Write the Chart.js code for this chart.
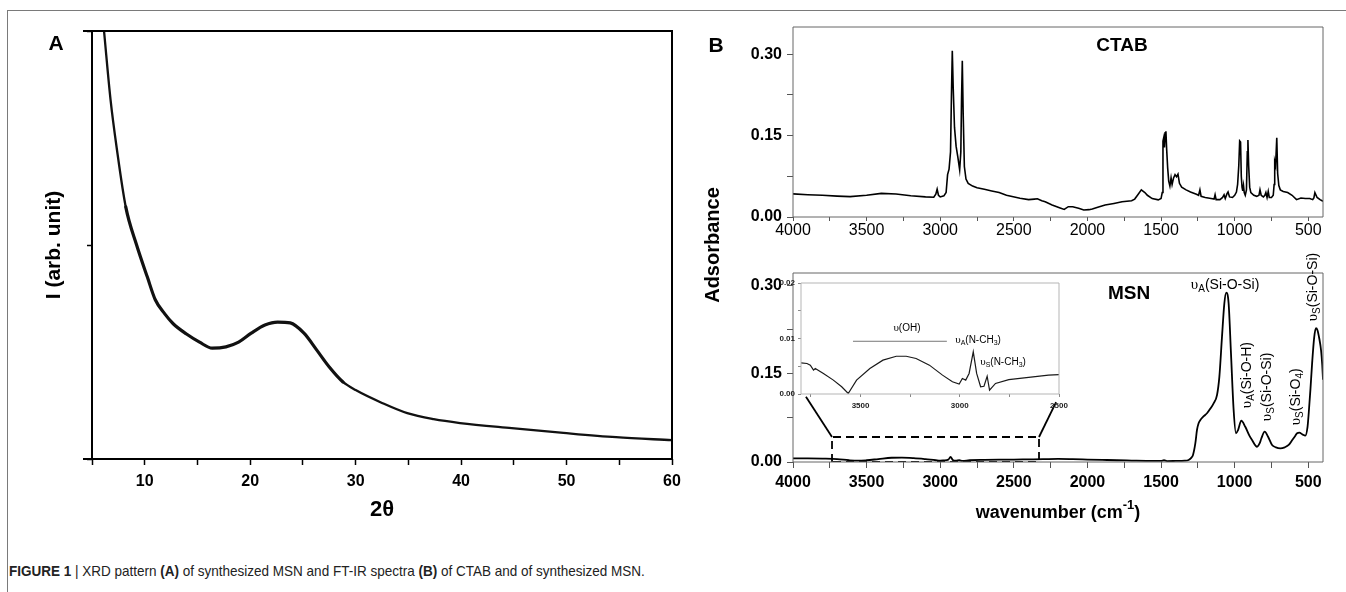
<!DOCTYPE html>
<html>
<head>
<meta charset="utf-8">
<script src="https://cdn.jsdelivr.net/npm/chart.js@4.4.0/dist/chart.umd.min.js"></script>
<style>
  html, body { margin: 0; padding: 0; background: #fff; }
  body { width: 1346px; height: 592px; position: relative; overflow: hidden; font-family: 'Liberation Sans', Arial, sans-serif; }
  #frame { position: absolute; left: 7px; top: 10px; width: 1400px; height: 600px; border-left: 1.5px solid #7a7a7a; border-top: 1.5px solid #7a7a7a; }
  canvas { position: absolute; }
  .panel { position: absolute; font-weight: bold; font-size: 21px; transform: translate(-50%, -50%); }
  #ytitleB { position: absolute; left: 712px; top: 245px; font-weight: bold; font-size: 20px; white-space: nowrap; transform: translate(-50%, -50%) rotate(-90deg); }
  #caption { position: absolute; left: 9px; top: 562px; font-size: 15px; white-space: nowrap; color: #222; transform: scaleX(0.9); transform-origin: left center; }
</style>
</head>
<body>
<div id="frame"></div>
<canvas id="xrdChart" width="700" height="540" style="left:0;top:0"></canvas>
<canvas id="ctabChart" width="646" height="250" style="left:700px;top:0"></canvas>
<canvas id="msnChart" width="646" height="290" style="left:700px;top:240px"></canvas>
<canvas id="insetChart" width="310" height="150" style="left:760px;top:270px"></canvas>
<div class="panel" style="left:56px;top:43px">A</div>
<div class="panel" style="left:716px;top:45px">B</div>
<div id="ytitleB">Adsorbance</div>
<div id="caption"><b>FIGURE 1</b> | XRD pattern <b>(A)</b> of synthesized MSN and FT-IR spectra <b>(B)</b> of CTAB and of synthesized MSN.</div>

<script>
// XRD pattern (panel A)
const xrdAngle = [6.14, 6.76, 7.37, 8.2, 9.23, 10.25, 11.0, 11.9, 12.7, 13.96, 15.2, 16.4, 17.7, 18.9, 20.1, 21.4, 22.6, 23.8, 25.1, 26.3, 27.5, 28.8, 30.0, 32.5, 34.9, 37.4, 39.9, 44.8, 49.7, 54.7, 60];
const xrdIntensity = [100, 83.9, 72.2, 58.9, 50.0, 42.5, 37.2, 33.9, 31.6, 29.2, 27.3, 25.9, 26.2, 27.3, 29.4, 31.3, 32.0, 31.8, 29.4, 25.5, 21.5, 18.0, 16.1, 13.1, 10.7, 9.3, 8.4, 7.2, 6.1, 5.1, 4.4];
const xrdTicks = [5, 10, 15, 20, 25, 30, 35, 40, 45, 50, 55, 60];
const xrdLevelTicks = [0, 50, 100];

// FT-IR axes (panel B)
const irTicks = [4000, 3750, 3500, 3250, 3000, 2750, 2500, 2250, 2000, 1750, 1500, 1250, 1000, 750, 500];
const absTicks = [0, 0.075, 0.15, 0.225, 0.30];

// CTAB spectrum
const ctabWavenumber = [4000, 3900, 3800, 3700, 3612, 3500, 3400, 3300, 3200, 3100, 3044, 3030, 3021, 3012, 3000, 2975, 2960, 2950, 2940, 2930, 2924, 2918, 2912, 2903, 2892, 2880, 2868, 2860, 2855, 2850, 2844, 2836, 2825, 2810, 2780, 2750, 2700, 2650, 2600, 2550, 2458, 2400, 2360, 2340, 2310, 2287, 2240, 2190, 2158, 2130, 2100, 2060, 2025, 1990, 1967, 1930, 1880, 1820, 1765, 1700, 1679, 1660, 1634, 1610, 1593, 1560, 1519, 1500, 1492, 1487, 1482, 1477, 1472, 1467, 1462, 1455, 1448, 1440, 1432, 1425, 1415, 1405, 1395, 1385, 1375, 1360, 1330, 1300, 1260, 1245, 1236, 1228, 1200, 1160, 1140, 1133, 1126, 1100, 1082, 1072, 1064, 1052, 1045, 1035, 1015, 1000, 988, 980, 972, 966, 960, 955, 950, 945, 940, 935, 928, 920, 914, 910, 905, 898, 890, 870, 850, 835, 828, 820, 805, 795, 788, 780, 772, 765, 750, 738, 732, 728, 722, 714, 708, 700, 690, 670, 640, 610, 580, 550, 520, 490, 470, 462, 455, 440, 420, 400];
const ctabAbsorbance = [0.0426, 0.041, 0.040, 0.0385, 0.0376, 0.040, 0.0435, 0.0425, 0.039, 0.037, 0.0365, 0.042, 0.0513, 0.040, 0.037, 0.039, 0.045, 0.078, 0.088, 0.12, 0.22, 0.306, 0.24, 0.165, 0.13, 0.11, 0.087, 0.12, 0.22, 0.288, 0.19, 0.093, 0.07, 0.062, 0.057, 0.054, 0.051, 0.048, 0.045, 0.040, 0.0346, 0.032, 0.033, 0.0335, 0.030, 0.028, 0.022, 0.017, 0.014, 0.019, 0.019, 0.016, 0.013, 0.0135, 0.0148, 0.018, 0.022, 0.025, 0.028, 0.030, 0.033, 0.040, 0.050, 0.045, 0.040, 0.034, 0.0315, 0.034, 0.045, 0.140, 0.146, 0.128, 0.155, 0.158, 0.125, 0.09, 0.066, 0.057, 0.072, 0.060, 0.072, 0.078, 0.074, 0.079, 0.062, 0.055, 0.050, 0.046, 0.042, 0.040, 0.050, 0.038, 0.036, 0.034, 0.033, 0.041, 0.032, 0.032, 0.036, 0.041, 0.034, 0.043, 0.046, 0.037, 0.036, 0.040, 0.046, 0.060, 0.095, 0.140, 0.138, 0.075, 0.055, 0.048, 0.058, 0.045, 0.040, 0.050, 0.120, 0.142, 0.095, 0.055, 0.045, 0.040, 0.038, 0.040, 0.050, 0.040, 0.037, 0.040, 0.045, 0.036, 0.047, 0.036, 0.036, 0.040, 0.060, 0.102, 0.095, 0.146, 0.080, 0.058, 0.050, 0.047, 0.045, 0.040, 0.032, 0.035, 0.034, 0.034, 0.032, 0.035, 0.045, 0.036, 0.032, 0.029, 0.026];

// MSN spectrum
const msnWavenumber = [4000, 3900, 3800, 3700, 3620, 3560, 3500, 3420, 3330, 3260, 3180, 3100, 3030, 3000, 2975, 2945, 2930, 2915, 2895, 2870, 2850, 2800, 2700, 2600, 2500, 2400, 2300, 2200, 2100, 2000, 1900, 1800, 1700, 1600, 1500, 1480, 1460, 1400, 1340, 1313, 1295, 1283, 1267, 1256, 1245, 1233, 1210, 1188, 1165, 1143, 1120, 1104, 1086, 1070, 1057, 1041, 1025, 1007, 991, 977, 955, 928, 900, 882, 848, 830, 819, 796, 773, 746, 720, 690, 660, 633, 610, 590, 576, 560, 540, 520, 505, 497, 485, 474, 460, 448, 438, 425, 413, 405, 400];
const msnAbsorbance = [0.0063, 0.0062, 0.0058, 0.0050, 0.0030, 0.0022, 0.0030, 0.0050, 0.0072, 0.0074, 0.0065, 0.0048, 0.0030, 0.0024, 0.0028, 0.0040, 0.0085, 0.0035, 0.0022, 0.0030, 0.0018, 0.0030, 0.0036, 0.0040, 0.0042, 0.0045, 0.0048, 0.0052, 0.0048, 0.0042, 0.0036, 0.0030, 0.0025, 0.0020, 0.0018, 0.0030, 0.0016, 0.0018, 0.0022, 0.0035, 0.0070, 0.012, 0.032, 0.0545, 0.066, 0.0716, 0.078, 0.083, 0.091, 0.100, 0.114, 0.145, 0.2135, 0.2705, 0.2886, 0.270, 0.185, 0.0886, 0.049, 0.0545, 0.0704, 0.060, 0.045, 0.0375, 0.026, 0.032, 0.040, 0.0516, 0.043, 0.029, 0.025, 0.0233, 0.025, 0.029, 0.037, 0.044, 0.049, 0.050, 0.047, 0.045, 0.060, 0.083, 0.125, 0.168, 0.212, 0.228, 0.225, 0.210, 0.190, 0.165, 0.140];

// MSN inset, 3800-2500 cm-1
const insetWavenumber = [3800, 3770, 3753, 3737, 3728, 3687, 3637, 3595, 3562, 3520, 3453, 3387, 3320, 3270, 3220, 3153, 3087, 3037, 3003, 2987, 2970, 2953, 2932, 2915, 2895, 2878, 2862, 2850, 2820, 2753, 2653, 2553, 2500];
const insetAbsorbance = [0.0056, 0.0055, 0.0052, 0.0043, 0.0046, 0.0037, 0.0025, 0.0013, 0.0001, 0.0025, 0.0046, 0.0061, 0.0068, 0.0068, 0.0064, 0.0052, 0.0034, 0.0022, 0.0018, 0.0028, 0.0025, 0.0037, 0.0076, 0.0037, 0.0013, 0.0014, 0.0032, 0.0007, 0.0019, 0.0026, 0.0030, 0.0034, 0.0035];
const insetXTicks = [3750, 3500, 3250, 3000, 2750, 2500];
const insetYTicks = [0, 0.005, 0.01, 0.015, 0.02];
const ohBracketWavenumber = [3538, 3065];
const ohBracketLevel = 0.0095;

// zoom box and its links to the inset (MSN chart units)
const zoomBoxWavenumber = [3735, 2329];
const zoomBoxTop = 0.0426;
const leftLinkWavenumber = [3912, 3735];
const leftLinkAbsorbance = [0.111, 0.0426];
const rightLinkWavenumber = [2213, 2329];
const rightLinkAbsorbance = [0.102, 0.0426];

const SANS = "'Liberation Sans', Arial, sans-serif";
Chart.defaults.font.family = SANS;
Chart.defaults.color = '#000';

function pairUp(xs, ys) {
  return xs.map((x, i) => ({ x: x, y: ys[i] }));
}

function isStep(v, step) {
  const r = v / step;
  return Math.abs(r - Math.round(r)) < 1e-6;
}

// text with serif upsilon, subscripts and superscripts
function drawRich(ctx, parts, size, weight, x, y, rot) {
  const fontFor = (k) => {
    if (k === 'g') return `${size + 1}px 'Liberation Serif', serif`;
    const s = (k === 's' || k === 'p') ? Math.round(size * 0.72) : size;
    return `${weight} ${s}px ${SANS}`;
  };
  ctx.save();
  ctx.translate(x, y);
  ctx.rotate(rot || 0);
  ctx.textBaseline = 'middle';
  ctx.textAlign = 'left';
  ctx.fillStyle = '#000';
  let width = 0;
  parts.forEach(([t, k]) => { ctx.font = fontFor(k); width += ctx.measureText(t).width; });
  let cx = -width / 2;
  parts.forEach(([t, k]) => {
    ctx.font = fontFor(k);
    const dy = k === 's' ? size * 0.32 : (k === 'p' ? -size * 0.4 : 0);
    ctx.fillText(t, cx, dy);
    cx += ctx.measureText(t).width;
  });
  ctx.restore();
}

const framePlugin = {
  id: 'frame',
  afterDatasetsDraw(chart, args, opts) {
    const { ctx, chartArea: a } = chart;
    const ext = opts.extend || 0;
    ctx.save();
    ctx.strokeStyle = opts.color;
    ctx.lineWidth = opts.width;
    ctx.beginPath();
    ctx.moveTo(a.left - ext, a.top); ctx.lineTo(a.right, a.top);
    ctx.lineTo(a.right, a.bottom); ctx.lineTo(a.left - ext, a.bottom);
    ctx.moveTo(a.left, a.top); ctx.lineTo(a.left, a.bottom);
    ctx.stroke();
    ctx.restore();
  }
};

const notesPlugin = {
  id: 'notes',
  afterDraw(chart, args, opts) {
    const { ctx, scales: { x, y }, chartArea: a } = chart;
    (opts.items || []).forEach((n) => {
      drawRich(ctx, n.parts, n.size, n.weight || 'normal', x.getPixelForValue(n.x), y.getPixelForValue(n.y), n.rot ? -Math.PI / 2 : 0);
    });
    if (opts.axisTitle) {
      drawRich(ctx, opts.axisTitle, 18, 'bold', (a.left + a.right) / 2, x.bottom - 17, 0);
    }
  }
};

function fixedAxis(size, horizontal) {
  return (s) => {
    if (horizontal) s.height = size; else s.width = size;
    s.paddingLeft = 0; s.paddingRight = 0; s.paddingTop = 0; s.paddingBottom = 0;
  };
}

const common = {
  responsive: false,
  devicePixelRatio: 1,
  animation: false,
  plugins: { legend: { display: false }, tooltip: { enabled: false } }
};

// panel A; the noisy stretch of the scan is drawn heavier
new Chart(document.getElementById('xrdChart'), {
  type: 'line',
  data: {
    datasets: [{
      data: pairUp(xrdAngle, xrdIntensity),
      borderColor: '#111', borderWidth: 2.2, pointRadius: 0,
      borderCapStyle: 'round', borderJoinStyle: 'round',
      cubicInterpolationMode: 'monotone',
      segment: { borderWidth: (c) => (c.p0.parsed.x > 8 && c.p1.parsed.x < 29 ? 3.2 : 2.3) }
    }]
  },
  options: {
    ...common,
    layout: { padding: { left: 0, top: 31, right: 28, bottom: 0 } },
    plugins: { ...common.plugins, frame: { color: '#000', width: 2, extend: 9 } },
    scales: {
      x: {
        type: 'linear', min: 5, max: 60,
        afterBuildTicks: (s) => { s.ticks = xrdTicks.map((v) => ({ value: v })); },
        afterFit: fixedAxis(81, true),
        border: { display: false },
        grid: { drawOnChartArea: false, tickLength: 6, tickColor: '#000', tickWidth: 1.5 },
        ticks: { autoSkip: false, maxRotation: 0, padding: 7, font: { size: 16, weight: 'bold' }, callback: (v) => (isStep(v, 10) ? v : '') },
        title: { display: true, text: '2θ', font: { size: 22, weight: 'bold' }, padding: { top: 0, bottom: 17 } }
      },
      y: {
        min: 0, max: 100,
        afterBuildTicks: (s) => { s.ticks = xrdLevelTicks.map((v) => ({ value: v })); },
        afterFit: fixedAxis(92, false),
        border: { display: false },
        grid: { drawOnChartArea: false, tickLength: 5, tickColor: '#000', tickWidth: 1.5 },
        ticks: { callback: () => '' },
        title: { display: true, text: 'I (arb. unit)', font: { size: 21, weight: 'bold' }, padding: { top: 42, bottom: 0 } }
      }
    }
  },
  plugins: [framePlugin]
});

function irScales(opts) {
  return {
    x: {
      type: 'linear', min: 400, max: 4000, reverse: true,
      afterBuildTicks: (s) => { s.ticks = irTicks.map((v) => ({ value: v })); },
      afterFit: fixedAxis(opts.xHeight, true),
      border: { display: false },
      grid: { drawOnChartArea: false, tickLength: opts.xTick, tickColor: '#555', tickWidth: 1 },
      ticks: { autoSkip: false, maxRotation: 0, padding: opts.xPad, font: { size: 16, weight: opts.xWeight }, callback: (v) => (isStep(v, 500) ? v : '') }
    },
    y: {
      min: 0, max: opts.yMax,
      afterBuildTicks: (s) => { s.ticks = absTicks.map((v) => ({ value: v })); },
      afterFit: fixedAxis(93, false),
      border: { display: false },
      grid: { drawOnChartArea: false, tickLength: 6, tickColor: '#555', tickWidth: 1 },
      ticks: { padding: 5, font: { size: 16, weight: 'bold' }, callback: (v) => (isStep(v, 0.15) ? v.toFixed(2) : '') }
    }
  };
}

// panel B, CTAB
new Chart(document.getElementById('ctabChart'), {
  type: 'line',
  data: {
    datasets: [{
      data: pairUp(ctabWavenumber, ctabAbsorbance),
      borderColor: '#000', borderWidth: 1.6, pointRadius: 0, tension: 0
    }]
  },
  options: {
    ...common,
    layout: { padding: { left: 0, top: 27, right: 23, bottom: 0 } },
    plugins: {
      ...common.plugins,
      frame: { color: '#666', width: 1 },
      notes: { items: [{ x: 1765, y: 0.315, size: 19, weight: 'bold', parts: [['CTAB', 'n']] }] }
    },
    scales: irScales({ xHeight: 33, xTick: 4, xPad: 0, xWeight: 'normal', yMax: 0.35 })
  },
  plugins: [framePlugin, notesPlugin]
});

const ups = (sub, body, tail) => {
  const parts = [['υ', 'g'], [sub, 's'], [body, 'n']];
  if (tail) { parts.push([tail, 's']); parts.push([')', 'n']); }
  return parts;
};

// panel B, MSN
new Chart(document.getElementById('msnChart'), {
  type: 'line',
  data: {
    datasets: [
      {
        data: pairUp(msnWavenumber, msnAbsorbance),
        borderColor: '#000', borderWidth: 1.8, pointRadius: 0, cubicInterpolationMode: 'monotone'
      },
      {
        data: [
          { x: zoomBoxWavenumber[0], y: 0 }, { x: zoomBoxWavenumber[0], y: zoomBoxTop },
          { x: zoomBoxWavenumber[1], y: zoomBoxTop }, { x: zoomBoxWavenumber[1], y: 0 },
          { x: zoomBoxWavenumber[0], y: 0 }
        ],
        borderColor: '#000', borderWidth: 1.8, borderDash: [8, 5], pointRadius: 0, tension: 0
      },
      {
        data: pairUp(leftLinkWavenumber, leftLinkAbsorbance),
        borderColor: '#000', borderWidth: 1.8, pointRadius: 0, clip: false
      },
      {
        data: pairUp(rightLinkWavenumber, rightLinkAbsorbance),
        borderColor: '#000', borderWidth: 1.8, pointRadius: 0, clip: false
      }
    ]
  },
  options: {
    ...common,
    layout: { padding: { left: 0, top: 33, right: 23, bottom: 0 } },
    plugins: {
      ...common.plugins,
      frame: { color: '#666', width: 1 },
      notes: {
        items: [
          { x: 1717, y: 0.286, size: 19, weight: 'bold', parts: [['MSN', 'n']] },
          { x: 1065, y: 0.302, size: 14, parts: ups('A', '(Si-O-Si)') },
          { x: 918, y: 0.148, size: 14, rot: true, parts: ups('A', '(Si-O-H)') },
          { x: 780, y: 0.128, size: 14, rot: true, parts: ups('S', '(Si-O-Si)') },
          { x: 583, y: 0.111, size: 14, rot: true, parts: ups('S', '(Si-O', '4') },
          { x: 467, y: 0.298, size: 14, rot: true, parts: ups('S', '(Si-O-Si)') }
        ],
        axisTitle: [['wavenumber (cm', 'n'], ['-1', 'p'], [')', 'n']]
      }
    },
    scales: irScales({ xHeight: 68, xTick: 6, xPad: 5, xWeight: 'bold', yMax: 0.322 })
  },
  plugins: [framePlugin, notesPlugin]
});

// inset of MSN, 3800-2500 cm-1
new Chart(document.getElementById('insetChart'), {
  type: 'line',
  data: {
    datasets: [
      {
        data: pairUp(insetWavenumber, insetAbsorbance),
        borderColor: '#1a1a1a', borderWidth: 1.2, pointRadius: 0, tension: 0
      },
      {
        data: ohBracketWavenumber.map((x) => ({ x: x, y: ohBracketLevel })),
        borderColor: '#777', borderWidth: 1, pointRadius: 0
      }
    ]
  },
  options: {
    ...common,
    layout: { padding: { left: 0, top: 13, right: 11, bottom: 0 } },
    plugins: {
      ...common.plugins,
      frame: { color: '#b5b5b5', width: 1 },
      notes: {
        items: [
          { x: 3266, y: 0.0119, size: 10, parts: [['υ', 'g'], ['(OH)', 'n']] },
          { x: 2908, y: 0.0097, size: 10, parts: ups('A', '(N-CH', '3') },
          { x: 2782, y: 0.0058, size: 10, parts: ups('S', '(N-CH', '3') }
        ]
      }
    },
    scales: {
      x: {
        type: 'linear', min: 2500, max: 3800, reverse: true,
        afterBuildTicks: (s) => { s.ticks = insetXTicks.map((v) => ({ value: v })); },
        afterFit: fixedAxis(26, true),
        border: { display: false },
        grid: { drawOnChartArea: false, tickLength: 3, tickColor: '#888', tickWidth: 1 },
        ticks: { autoSkip: false, maxRotation: 0, padding: 4, color: '#222', font: { size: 8, weight: 'bold' }, callback: (v) => (isStep(v, 500) ? v : '') }
      },
      y: {
        min: 0, max: 0.02,
        afterBuildTicks: (s) => { s.ticks = insetYTicks.map((v) => ({ value: v })); },
        afterFit: fixedAxis(41, false),
        border: { display: false },
        grid: { drawOnChartArea: false, tickLength: 3, tickColor: '#888', tickWidth: 1 },
        ticks: { padding: 3, color: '#222', font: { size: 8, weight: 'bold' }, callback: (v) => (isStep(v, 0.01) ? v.toFixed(2) : '') }
      }
    }
  },
  plugins: [framePlugin, notesPlugin]
});
</script>
</body>
</html>
